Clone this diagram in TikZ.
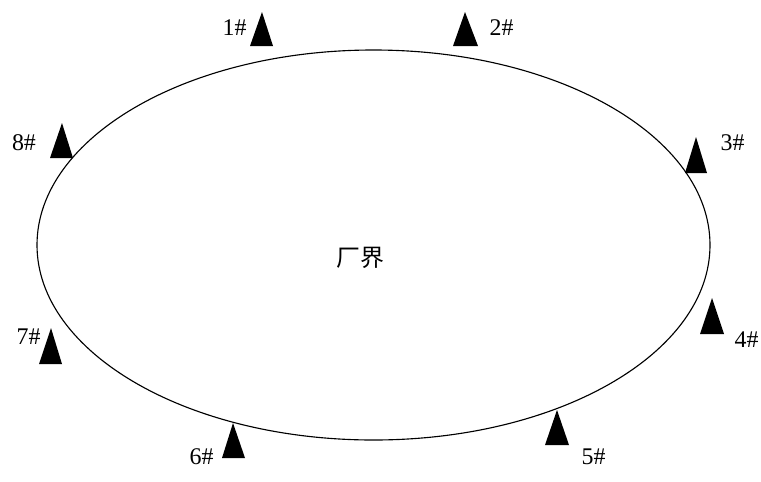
\documentclass[tikz,border=0pt]{standalone}
\usepackage{fontspec}
\setmainfont{Liberation Serif}
\newfontfamily\cjk{Noto Sans CJK SC}
\tikzset{
  sensor/.style={fill=black},
  lbl/.style={inner sep=0pt,font=\fontsize{17}{20}\selectfont}
}
\begin{document}
\begin{tikzpicture}[x=0.025cm,y=-0.025cm]
\useasboundingbox (0,0) rectangle (761,481);
\draw[line width=0.8pt] (373.5,245) ellipse (336.5 and 195);
\node[lbl] (area) at (360,258) {\cjk 厂界};
% monitoring points
\fill[sensor] (250,46)--(262,12)--(273,46)--cycle;
\fill[sensor] (453,46)--(465,12)--(478,46)--cycle;
\fill[sensor] (685,173)--(696,137)--(707,173)--cycle;
\fill[sensor] (700,334)--(712,298)--(724,334)--cycle;
\fill[sensor] (545,445)--(557,410)--(569,445)--cycle;
\fill[sensor] (222,458)--(233,423)--(245,458)--cycle;
\fill[sensor] (39,364)--(51,328)--(62,364)--cycle;
\fill[sensor] (50,158)--(62,123)--(73,158)--cycle;
\node[lbl] (p1) at (234.5,28) {1\#};
\node[lbl] (p2) at (501.5,28) {2\#};
\node[lbl] (p3) at (732.5,143) {3\#};
\node[lbl] (p4) at (746.5,340) {4\#};
\node[lbl] (p5) at (593.5,457) {5\#};
\node[lbl] (p6) at (201.5,457) {6\#};
\node[lbl] (p7) at (28.5,337) {7\#};
\node[lbl] (p8) at (24,143) {8\#};
\end{tikzpicture}
\end{document}
